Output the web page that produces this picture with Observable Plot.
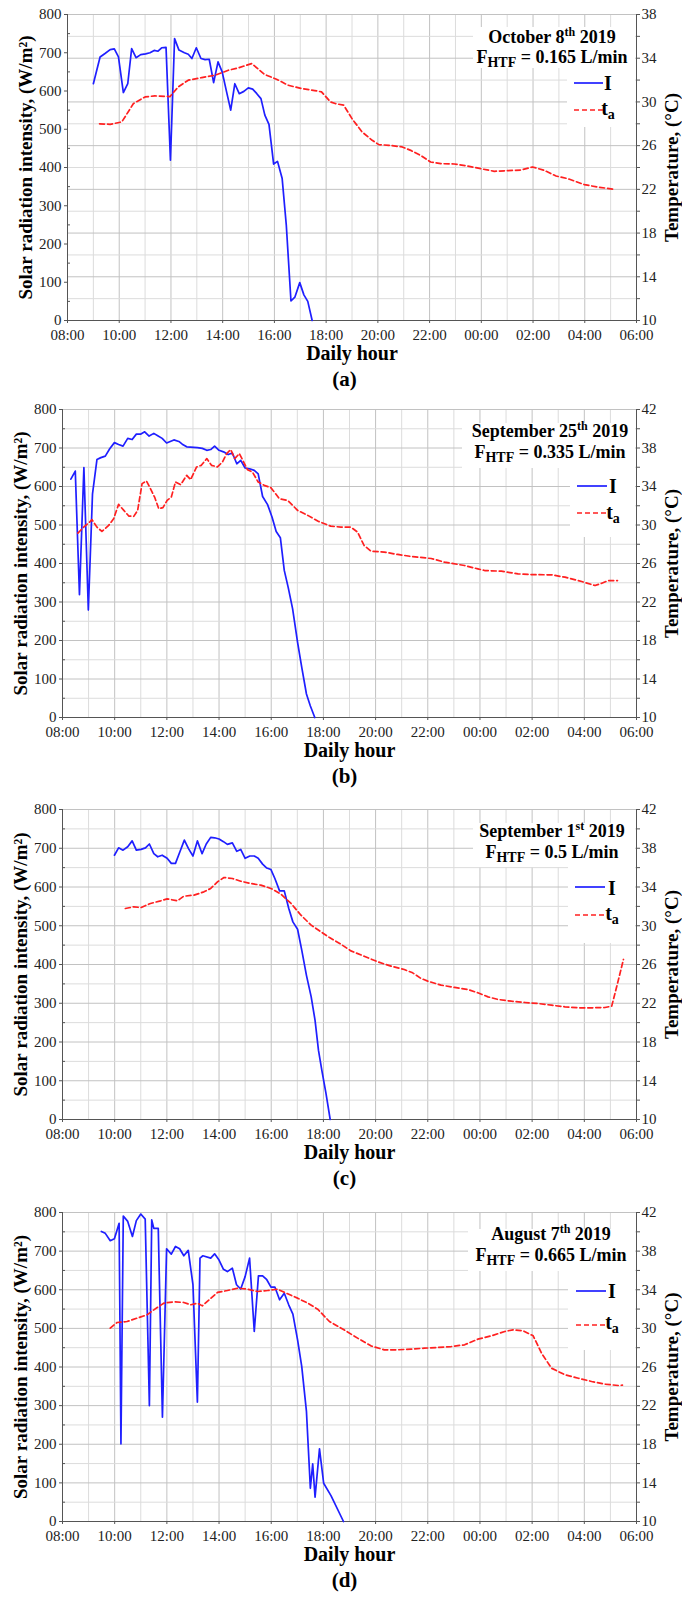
<!DOCTYPE html>
<html><head><meta charset="utf-8">
<script src="https://cdn.jsdelivr.net/npm/d3@7"></script>
<script src="https://cdn.jsdelivr.net/npm/@observablehq/plot@0.6"></script>
<style>
html,body{margin:0;padding:0;background:#fff;}
#chart{width:682px;}
#chart svg{display:block;}
#chart svg text, #chart svg tspan{font-family:"Liberation Serif","Times New Roman",serif;}
</style></head><body><div id="chart"></div>
<script>
// ---------- DATA ----------
const xTicks = [8, 10, 12, 14, 16, 18, 20, 22, 24, 26, 28, 30];
const xTickLabels = ["08:00","10:00","12:00","14:00","16:00","18:00","20:00","22:00","00:00","02:00","04:00","06:00"];
const yTicksW = [0, 100, 200, 300, 400, 500, 600, 700, 800];
const tempTicksA = [10, 14, 18, 22, 26, 30, 34, 38];
const tempTicksBCD = [10, 14, 18, 22, 26, 30, 34, 38, 42];

const dates = [["October 8", "th"], ["September 25", "th"], ["September 1", "st"], ["August 7", "th"]];
const flows = ["0.165", "0.335", "0.5", "0.665"];
const captions = ["(a)", "(b)", "(c)", "(d)"];

// [hour, W/m²]  (hours > 24 are the next morning)
const octI = [[9.0,619],[9.26,689],[9.45,698],[9.65,708],[9.81,710],[9.97,689],[10.16,596],[10.33,619],[10.48,711],[10.65,687],[10.83,695],[11.02,697],[11.19,700],[11.35,706],[11.5,704],[11.64,713],[11.81,714],[11.98,419],[12.14,737],[12.31,707],[12.52,700],[12.67,696],[12.81,685],[12.98,713],[13.16,685],[13.32,682],[13.48,683],[13.65,622],[13.82,676],[13.98,650],[14.14,601],[14.31,550],[14.47,619],[14.64,593],[14.82,599],[14.99,608],[15.16,605],[15.32,593],[15.48,580],[15.63,537],[15.79,513],[15.97,409],[16.12,416],[16.3,371],[16.46,249],[16.64,51],[16.79,61],[16.98,99],[17.14,67],[17.29,50],[17.46,0]];
// [hour, °C]
const octT = [[9.24,28.0],[9.65,27.95],[10.1,28.17],[10.55,29.85],[11.0,30.46],[11.38,30.55],[11.96,30.49],[12.28,31.37],[12.67,31.99],[13.19,32.23],[13.7,32.44],[14.22,32.9],[14.6,33.11],[15.12,33.51],[15.63,32.5],[16.08,32.08],[16.53,31.53],[17.05,31.22],[17.56,31.04],[17.82,30.92],[18.17,30.0],[18.35,29.85],[18.68,29.7],[19.0,28.47],[19.39,27.25],[19.78,26.49],[20.04,26.09],[20.43,26.03],[20.94,25.88],[21.27,25.57],[21.65,25.11],[22.04,24.5],[22.43,24.35],[22.95,24.32],[23.46,24.14],[23.98,23.89],[24.5,23.65],[25.01,23.71],[25.53,23.77],[25.98,24.05],[26.43,23.74],[26.89,23.22],[27.34,22.98],[27.99,22.43],[28.5,22.21],[29.15,22.0]];

const sep25I = [[8.32,619],[8.49,640],[8.65,319],[8.82,649],[8.99,279],[9.15,581],[9.32,670],[9.47,675],[9.64,679],[9.81,698],[9.99,714],[10.15,709],[10.32,705],[10.5,725],[10.67,722],[10.83,736],[10.99,736],[11.15,742],[11.32,731],[11.5,738],[11.65,732],[11.82,725],[11.99,713],[12.27,721],[12.46,717],[12.59,710],[12.76,703],[13.17,701],[13.36,699],[13.53,694],[13.68,696],[13.83,705],[14.0,694],[14.17,690],[14.35,683],[14.51,687],[14.68,659],[14.83,668],[15.0,648],[15.17,646],[15.35,642],[15.5,633],[15.67,574],[15.86,553],[16.03,521],[16.19,483],[16.35,467],[16.5,382],[16.65,338],[16.82,282],[17.01,195],[17.17,130],[17.35,61],[17.5,30],[17.67,0]];
const sep25T = [[8.59,29.16],[8.81,29.78],[9.04,30.3],[9.13,30.55],[9.32,29.78],[9.51,29.33],[9.77,29.96],[9.96,30.65],[10.15,32.14],[10.35,31.52],[10.54,30.93],[10.73,30.89],[10.88,31.52],[11.05,34.3],[11.22,34.57],[11.37,33.77],[11.53,32.9],[11.69,31.69],[11.85,31.8],[12.01,32.56],[12.17,32.9],[12.33,34.47],[12.53,34.19],[12.76,35.16],[12.91,34.71],[13.14,36.03],[13.32,36.2],[13.53,36.9],[13.71,36.2],[13.94,36.03],[14.13,36.55],[14.29,37.42],[14.45,37.83],[14.6,36.9],[14.78,37.42],[14.94,36.55],[15.09,35.75],[15.28,35.5],[15.5,34.47],[15.73,34.12],[15.99,33.88],[16.31,32.73],[16.63,32.56],[17.01,31.52],[17.4,31.0],[17.78,30.41],[18.28,29.88],[18.67,29.78],[19.05,29.78],[19.31,29.26],[19.56,27.87],[19.82,27.28],[20.33,27.18],[20.85,26.94],[21.36,26.73],[22.13,26.52],[22.64,26.14],[23.41,25.79],[23.92,25.44],[24.18,25.27],[24.82,25.2],[25.46,24.92],[25.97,24.85],[26.74,24.82],[27.26,24.58],[27.9,24.13],[28.41,23.71],[28.67,23.95],[28.92,24.23],[29.27,24.23]];

const sep1I = [[9.99,682],[10.15,701],[10.32,695],[10.5,704],[10.67,719],[10.83,695],[11.01,697],[11.18,701],[11.33,711],[11.5,686],[11.65,678],[11.82,682],[12.01,674],[12.17,661],[12.33,661],[12.5,691],[12.67,721],[12.83,699],[13.0,680],[13.17,719],[13.35,686],[13.51,711],[13.68,728],[13.83,727],[14.0,724],[14.17,717],[14.32,710],[14.51,714],[14.68,692],[14.83,697],[15.0,674],[15.18,680],[15.35,680],[15.5,674],[15.67,659],[15.83,649],[15.99,645],[16.14,622],[16.32,590],[16.5,590],[16.67,545],[16.83,510],[17.01,491],[17.17,437],[17.35,372],[17.53,317],[17.68,256],[17.81,179],[17.94,127],[18.1,67],[18.26,0]];
const sep1T = [[10.41,31.78],[10.73,31.95],[11.01,31.88],[11.37,32.3],[11.76,32.57],[12.01,32.78],[12.4,32.57],[12.65,33.05],[13.04,33.16],[13.42,33.5],[13.68,33.85],[13.94,34.53],[14.19,34.98],[14.51,34.88],[14.83,34.6],[15.22,34.36],[15.6,34.19],[15.99,33.85],[16.37,33.26],[16.76,32.3],[17.14,31.09],[17.53,30.06],[17.91,29.37],[18.25,28.75],[18.67,28.1],[19.05,27.41],[19.56,26.86],[20.08,26.28],[20.59,25.83],[21.1,25.48],[21.42,25.14],[21.74,24.56],[22.0,24.28],[22.51,23.87],[23.03,23.63],[23.54,23.42],[23.92,23.08],[24.31,22.66],[24.69,22.39],[25.21,22.21],[25.72,22.08],[26.23,21.97],[26.74,21.8],[27.26,21.63],[27.77,21.53],[28.28,21.53],[28.79,21.56],[29.05,21.7],[29.24,23.7],[29.5,26.52]];

const aug7I = [[9.49,751],[9.64,746],[9.83,727],[9.99,732],[10.17,772],[10.24,201],[10.33,791],[10.5,777],[10.68,738],[10.83,779],[11.0,796],[11.17,783],[11.33,300],[11.42,781],[11.5,759],[11.67,759],[11.83,270],[11.99,706],[12.17,692],[12.33,712],[12.49,706],[12.65,688],[12.82,702],[13.0,613],[13.17,309],[13.27,682],[13.38,688],[13.68,682],[13.83,693],[14.0,677],[14.17,653],[14.32,647],[14.51,656],[14.67,613],[14.83,602],[15.0,634],[15.17,682],[15.35,492],[15.51,636],[15.67,636],[15.83,626],[15.99,607],[16.14,607],[16.32,574],[16.5,591],[16.67,561],[16.83,537],[17.01,470],[17.17,401],[17.35,285],[17.5,86],[17.59,149],[17.68,63],[17.85,188],[18.01,99],[18.29,67],[18.77,0]];
const aug7T = [[9.83,30.02],[10.09,30.61],[10.47,30.71],[10.86,31.06],[11.24,31.4],[11.5,31.92],[11.88,32.61],[12.27,32.75],[12.65,32.68],[12.91,32.44],[13.17,32.61],[13.36,32.33],[13.62,32.96],[13.94,33.72],[14.32,33.92],[14.71,34.16],[15.09,34.06],[15.47,33.82],[15.86,33.92],[16.24,34.06],[16.63,33.58],[17.01,33.13],[17.4,32.61],[17.78,31.99],[18.23,30.71],[18.79,29.85],[19.31,28.99],[19.82,28.19],[20.33,27.78],[20.85,27.78],[21.36,27.85],[21.87,27.95],[22.38,28.02],[22.9,28.12],[23.41,28.3],[23.92,28.88],[24.44,29.23],[24.95,29.68],[25.27,29.85],[25.65,29.75],[26.04,29.23],[26.36,27.43],[26.74,25.88],[27.26,25.19],[27.77,24.84],[28.28,24.5],[28.79,24.22],[29.31,24.08],[29.46,24.12]];

// ---------- LAYOUT / STYLE ----------
const FONT = "Liberation Serif, Times New Roman, serif";
const BLUE = "#1f1fff", RED = "#ff2020";
const MR = 46;

const panels = [
  {I: octI, T: octT, tMax: 38, tempTicks: tempTicksA, ml: 67, mt: 14, ph: 306, mb: 77,
   box1: [473, 27, 162, 41], box2: [567, 68, 68, 59], cx: 552, b1: 43, b2: 63, lI: 83, bI: 90, lT: 110, bT: 115, x1: 574, x2: 603, tx: 608},
  {I: sep25I, T: sep25T, tMax: 42, tempTicks: tempTicksBCD, ml: 62, mt: 12, ph: 308, mb: 80,
   box1: [462, 26, 173, 45], box2: [570, 71, 65, 69], cx: 550, b1: 40, b2: 61, lI: 89, bI: 96, lT: 116, bT: 122, x1: 577, x2: 607, tx: 613},
  {I: sep1I, T: sep1T, tMax: 42, tempTicks: tempTicksBCD, ml: 62, mt: 12, ph: 310, mb: 79,
   box1: [473, 26, 162, 44], box2: [568, 70, 67, 76], cx: 552, b1: 40, b2: 61, lI: 90, bI: 98, lT: 118, bT: 123, x1: 575, x2: 605, tx: 612},
  {I: aug7I, T: aug7T, tMax: 42, tempTicks: tempTicksBCD, ml: 62, mt: 14, ph: 309, mb: 77,
   box1: [468, 31, 167, 42], box2: [568, 73, 67, 79], cx: 551, b1: 42, b2: 63, lI: 93, bI: 100, lT: 127, bT: 131, x1: 576, x2: 606, tx: 612}
];

function makePanel(p, idx) {
  const k = 800 / (p.tMax - 10);
  const toY = t => (t - 10) * k;
  const tempGrid = d3.range(10, p.tMax + 0.01, 2);
  const majorT = tempGrid.filter(t => (t - 10) % 4 === 0);
  const minorT = tempGrid.filter(t => (t - 10) % 4 !== 0);
  const hours = d3.range(8, 31);
  const labelOf = new Map(p.tempTicks.map(t => [toY(t), String(t)]));
  const yMinor = d3.range(50, 800, 100);
  const height = p.mt + p.ph + p.mb;
  const cx = (p.ml + 682 - MR) / 2;
  const tick = {fontFamily: FONT, fontSize: 15, fill: "#222", stroke: "#555", label: null};
  const title = {text: d => d, fontFamily: FONT, fontWeight: "bold", fill: "#000"};
  const svg = Plot.plot({
    width: 682, height,
    marginTop: p.mt, marginBottom: p.mb, marginLeft: p.ml, marginRight: MR,
    x: {domain: [8, 30]}, y: {domain: [0, 800]},
    style: {fontFamily: FONT, fontSize: "15px", color: "#222", background: "#fff"},
    marks: [
      Plot.ruleX(hours.filter(h => h % 2 === 1), {stroke: "#dcdcdc"}),
      Plot.ruleX(hours.filter(h => h % 2 === 0), {stroke: "#c2c2c2"}),
      Plot.ruleY(minorT.map(toY), {stroke: "#dcdcdc"}),
      Plot.ruleY(majorT.map(toY), {stroke: "#c2c2c2"}),
      Plot.ruleX([8, 30], {stroke: "#555"}),
      Plot.ruleY([0], {stroke: "#555"}),
      Plot.axisX(xTicks, {...tick, tickFormat: d => xTickLabels[xTicks.indexOf(d)], tickSize: 3, tickPadding: 6}),
      Plot.axisY(yTicksW, {...tick, tickSize: 3, tickPadding: 3}),
      Plot.axisY(yMinor, {...tick, tickSize: -3, tickFormat: () => ""}),
      Plot.axisY(p.tempTicks.map(toY), {...tick, anchor: "right", tickSize: 3, tickPadding: 2, tickFormat: v => labelOf.get(v)}),
      Plot.axisY(minorT.map(toY), {...tick, anchor: "right", tickSize: 3, tickFormat: () => ""}),
      Plot.line(p.I, {x: d => d[0], y: d => d[1], stroke: BLUE, strokeWidth: 1.7}),
      Plot.line(p.T, {x: d => d[0], y: d => toY(d[1]), stroke: RED, strokeWidth: 1.7, strokeDasharray: "5,3"}),
      Plot.text(["Daily hour"], {...title, frameAnchor: "bottom", dy: 39, fontSize: 20}),
      Plot.text([captions[idx]], {...title, frameAnchor: "bottom", dy: 65, dx: 344 - cx, fontSize: 21}),
      Plot.text(["Solar radiation intensity, (W/m²)"], {...title, frameAnchor: "left", textAnchor: "middle", dx: -42, rotate: -90, fontSize: 19}),
      Plot.text(["Temperature, (°C)"], {...title, frameAnchor: "right", textAnchor: "middle", dx: 35, rotate: -90, fontSize: 19})
    ]
  });
  // annotation + legend
  const g = d3.select(svg).append("g").attr("font-family", FONT).attr("font-weight", "bold").attr("fill", "#000");
  g.append("rect").attr("x", p.box1[0]).attr("y", p.box1[1]).attr("width", p.box1[2]).attr("height", p.box1[3]).attr("fill", "#fff");
  g.append("rect").attr("x", p.box2[0]).attr("y", p.box2[1]).attr("width", p.box2[2]).attr("height", p.box2[3]).attr("fill", "#fff");
  const t1 = g.append("text").attr("x", p.cx).attr("y", p.b1).attr("text-anchor", "middle").attr("font-size", 18);
  t1.append("tspan").text(dates[idx][0]);
  t1.append("tspan").attr("dy", -7).attr("font-size", 12).text(dates[idx][1]);
  t1.append("tspan").attr("dy", 7).text(" 2019");
  const t2 = g.append("text").attr("x", p.cx).attr("y", p.b2).attr("text-anchor", "middle").attr("font-size", 18);
  t2.append("tspan").text("F");
  t2.append("tspan").attr("dy", 4).attr("font-size", 14).text("HTF");
  t2.append("tspan").attr("dy", -4).text(" = " + flows[idx] + " L/min");
  g.append("line").attr("x1", p.x1).attr("x2", p.x2).attr("y1", p.lI).attr("y2", p.lI).attr("stroke", BLUE).attr("stroke-width", 1.7);
  g.append("line").attr("x1", p.x1).attr("x2", p.x2).attr("y1", p.lT).attr("y2", p.lT).attr("stroke", RED).attr("stroke-width", 1.7).attr("stroke-dasharray", "5,3");
  g.append("text").attr("x", p.tx).attr("y", p.bI).attr("font-size", 20).text("I");
  const tt = g.append("text").attr("x", p.tx).attr("y", p.bT).attr("font-size", 20);
  tt.append("tspan").text("t");
  tt.append("tspan").attr("dy", 4).attr("font-size", 14).text("a");
  return svg;
}

const chart = document.getElementById("chart");
panels.forEach((p, i) => chart.appendChild(makePanel(p, i)));
</script></body></html>
